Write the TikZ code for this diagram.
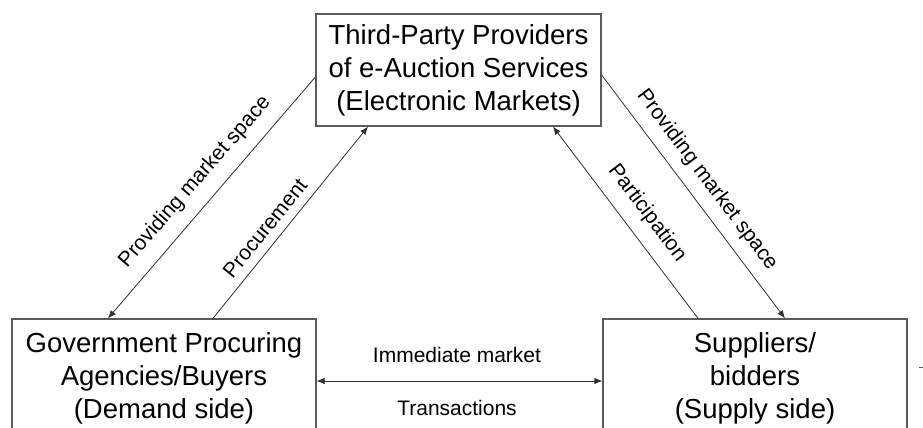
\documentclass[tikz,border=0pt]{standalone}
\usepackage{fontspec}
\setmainfont{Liberation Sans}
\usetikzlibrary{arrows.meta,calc}
\definecolor{boxline}{HTML}{5A5A5A}
\definecolor{arrline}{HTML}{303030}
\tikzset{
  boxnode/.style={draw=boxline, line width=1.3pt, inner sep=0pt, align=center,
    font=\fontsize{27.5}{33}\selectfont, text=black},
  conn/.style={draw=arrline, line width=0.8pt},
  tip/.style={-{Latex[length=8pt,width=6.5pt]}},
  lbl/.style={inner sep=0pt, font=\fontsize{21}{25}\selectfont, text=black}
}
\begin{document}
\begin{tikzpicture}[x=1pt,y=-1pt]
\useasboundingbox (0,0) rectangle (923,428);
\fill[white] (0,0) rectangle (923,428);
\clip (0,0) rectangle (923,428);

\node[boxnode, minimum width=285pt, minimum height=112pt] (top) at (458.5,70)
  {Third-Party Providers\\of e-Auction Services\\(Electronic Markets)};
\node[boxnode, minimum width=304pt, minimum height=118pt] (gov) at (164,378)
  {Government Procuring\\Agencies/Buyers\\(Demand side)};
\node[boxnode, minimum width=304pt, minimum height=118pt] (sup) at (755,378)
  {Suppliers/\\bidders\\(Supply side)};

% connectors
\draw[conn, tip] ([yshift=-7pt]top.west) -- ([xshift=-56pt]gov.north);
\draw[conn, tip] ([xshift=49pt]gov.north) -- ([xshift=-90.5pt]top.south);
\draw[conn, tip] ([xshift=-57pt]sup.north) -- ([xshift=94.5pt]top.south);
\draw[conn, tip] ([yshift=-5pt]top.east) -- ([xshift=30pt]sup.north);
\draw[conn, {Latex[length=8pt,width=6.5pt]}-{Latex[length=8pt,width=6.5pt]}]
  ([yshift=-3pt]gov.east) -- ([yshift=-3pt]sup.west);

% labels
\node[lbl, rotate=49] (l1) at (195,182) {Providing market space};
\node[lbl, rotate=51] (l2) at (265,228) {Procurement};
\node[lbl, rotate=-53] (l3) at (647,213) {Participation};
\node[lbl, rotate=-53] (l4) at (707,180) {Providing market space};
\node[lbl] (l5) at (457,355) {Immediate market};
\node[lbl] (l6) at (457,408) {Transactions};

% stray marks at right edge
\draw[boxline, line width=1pt] (919,367) -- (923,367);
\end{tikzpicture}
\end{document}
